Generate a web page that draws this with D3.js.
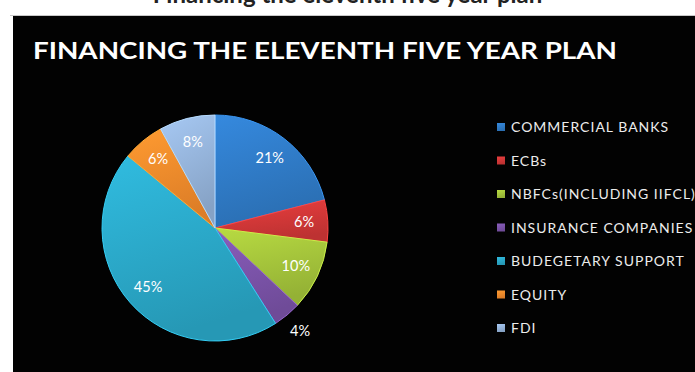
<!DOCTYPE html>
<html>
<head>
<meta charset="utf-8">
<script src="https://cdn.jsdelivr.net/npm/d3@7"></script>
<style>
  body { margin: 0; background: #fff; }
  svg { display: block; }
</style>
</head>
<body>
<script>
var CATEGORIES = ['COMMERCIAL BANKS', 'ECBs', 'NBFCs(INCLUDING IIFCL)', 'INSURANCE COMPANIES',
                  'BUDEGETARY SUPPORT', 'EQUITY', 'FDI']
var VALUES = [21, 6, 10, 4, 45, 6, 8]
var COLORS = ['#2f79c4', '#cf3737', '#a2c13a', '#7952a6', '#2aa6c6', '#f0892b', '#93b1d7']
var PAGE_TITLE = 'Financing the eleventh five year plan'
var CHART_TITLE = 'FINANCING THE ELEVENTH FIVE YEAR PLAN'

var W = 695, H = 372
var FONT = 'Lato, "Open Sans", sans-serif'

var svg = d3.select('body').append('svg').attr('width', W).attr('height', H)
var defs = svg.append('defs')

// heading of the slide above, only its lower edge shows
svg.append('text')
  .attr('x', W / 2).attr('y', 3)
  .attr('text-anchor', 'middle')
  .attr('font-family', FONT).attr('font-weight', 'bold').attr('font-size', 24)
  .attr('fill', '#222')
  .text(PAGE_TITLE)

svg.append('line').attr('x1', 10).attr('x2', W).attr('y1', 15.5).attr('y2', 15.5)
  .attr('stroke', '#c8c8c8').attr('stroke-width', 1)

svg.append('rect').attr('x', 13).attr('y', 16).attr('width', W - 13).attr('height', H - 16)
  .attr('fill', '#020202')

svg.append('text')
  .attr('x', 33).attr('y', 59)
  .attr('font-family', FONT).attr('font-weight', 'bold').attr('font-size', 23)
  .attr('fill', '#fff')
  .attr('textLength', 584).attr('lengthAdjust', 'spacingAndGlyphs')
  .text(CHART_TITLE)

// gradients, lighter at top like the excel bevel look
COLORS.forEach(function(c, i){
  var g = defs.append('linearGradient').attr('id', 'g' + i)
    .attr('x1', 0).attr('y1', 0).attr('x2', 0.3).attr('y2', 1)
  g.append('stop').attr('offset', '0%').attr('stop-color', d3.color(c).brighter(0.35))
  g.append('stop').attr('offset', '100%').attr('stop-color', d3.color(c).darker(0.25))
})

var cx = 215, cy = 228, R = 113
var pie = d3.pie().sort(null).value(function(d){ return d })
var arcs = pie(VALUES)
var arc = d3.arc().innerRadius(0).outerRadius(R)

var g = svg.append('g').attr('transform', 'translate(' + cx + ',' + cy + ')')

g.selectAll('path.slice')
  .data(arcs)
  .enter()
  .append('path')
  .attr('class', 'slice')
  .attr('d', arc)
  .attr('fill', function(d, i){ return 'url(#g' + i + ')' })
  .attr('stroke', function(d, i){ return d3.color(COLORS[i]).brighter(0.6) })
  .attr('stroke-width', 1)

var inLabel = d3.arc().innerRadius(R * 0.79).outerRadius(R * 0.79)
var outLabel = d3.arc().innerRadius(R * 1.18).outerRadius(R * 1.18)

g.selectAll('text.lbl')
  .data(arcs)
  .enter()
  .append('text')
  .attr('class', 'lbl')
  .attr('transform', function(d){
    var p = d.data < 5 ? outLabel.centroid(d) : inLabel.centroid(d)
    return 'translate(' + p + ')'
  })
  .attr('text-anchor', 'middle')
  .attr('dy', '0.35em')
  .attr('font-family', FONT).attr('font-size', 14.5)
  .attr('fill', '#fff')
  .text(function(d){ return d.data + '%' })

// legend
var ly = d3.scalePoint().domain(CATEGORIES).range([127, 328])
var legend = svg.selectAll('g.leg')
  .data(CATEGORIES)
  .enter()
  .append('g')
  .attr('class', 'leg')
  .attr('transform', function(d){ return 'translate(497,' + ly(d) + ')' })

legend.append('rect')
  .attr('x', 0).attr('y', -4).attr('width', 8).attr('height', 8)
  .attr('fill', function(d, i){ return 'url(#g' + i + ')' })

legend.append('text')
  .attr('x', 14).attr('dy', '0.36em')
  .attr('font-family', FONT).attr('font-size', 14)
  .attr('letter-spacing', 1)
  .attr('fill', '#ececec')
  .text(function(d){ return d })
</script>
</body>
</html>
